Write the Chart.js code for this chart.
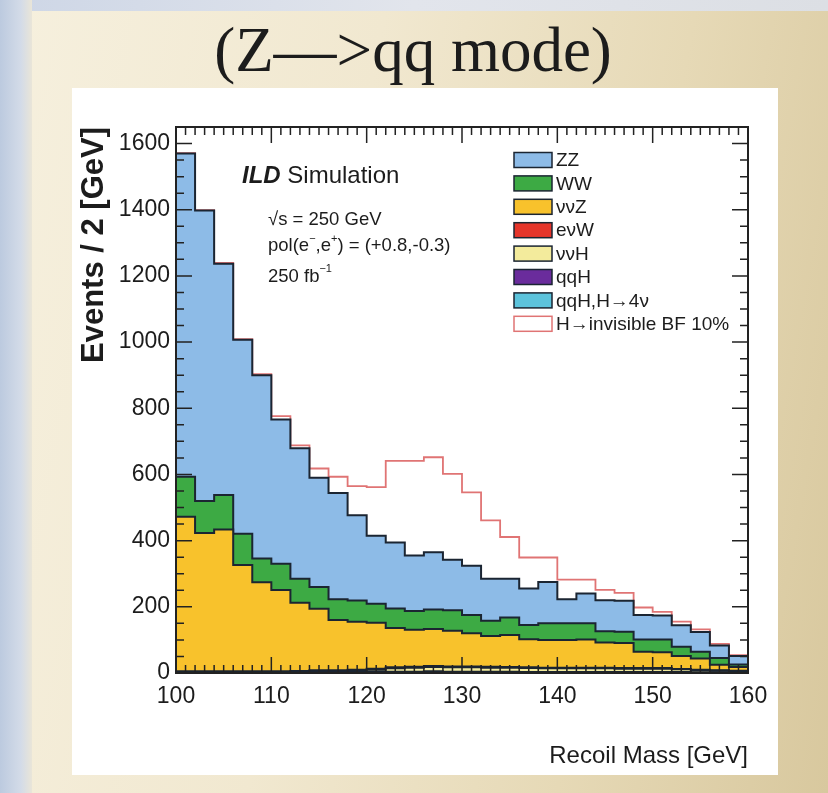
<!DOCTYPE html>
<html>
<head>
<meta charset="utf-8">
<script src="https://cdn.jsdelivr.net/npm/chart.js@4.4.1/dist/chart.umd.min.js"></script>
<style>
  html, body { margin: 0; padding: 0; }
  body {
    width: 828px; height: 793px; overflow: hidden; position: relative;
    background: linear-gradient(100deg, #f6f0de 0%, #f1e8d0 40%, #e6d9b6 72%, #d8c89e 100%);
  }
  #topband { position: absolute; left: 0; top: 0; width: 828px; height: 11px;
    background: linear-gradient(90deg, #cdd6e6, #e2e5ec 50%, #dcdfe4); }
  #leftband { position: absolute; left: 0; top: 0; width: 32px; height: 793px;
    background: linear-gradient(90deg, #bccadf, #d3dbe8 65%, #e9e5d8); }
  canvas { position: absolute; left: 0; top: 0; }
</style>
</head>
<body>
<div id="topband"></div>
<div id="leftband"></div>
<canvas id="recoil" width="828" height="793"></canvas>
<script>
// recoil mass bins, 2 GeV wide (low edges)
const binLow = [100, 102, 104, 106, 108, 110, 112, 114, 116, 118,
                120, 122, 124, 126, 128, 130, 132, 134, 136, 138,
                140, 142, 144, 146, 148, 150, 152, 154, 156, 158];
const binWidth = 2;

// events per bin for each background
const zz     = [977, 878, 699, 586, 554, 436, 394, 330, 321, 258,
                206, 199, 168, 173, 152, 149, 127, 117, 110, 125,
                 73,  90,  94,  93,  74,  73,  65,  60,  38,  25];
const ww     = [121,  97, 104,  95,  72,  79,  73,  66,  63,  64,
                 57,  59,  56,  59,  62,  55,  46,  53,  43,  50,
                 50,  49,  34,  34,  37,  38,  28,  20,  20,   8];
const nnz    = [467, 418, 429, 321, 269, 246, 206, 186, 152, 145,
                139, 119, 112, 112, 108, 100,  93,  97,  85,  84,
                 84,  85,  76,  76,  49,  48,  39,  34,  17,  11];
const enw    = [4, 4, 4, 4, 3, 3, 3, 4, 4, 4, 3, 3, 3, 3, 3,
                3, 3, 2, 2, 2, 2, 2, 2, 2, 2, 2, 1, 1, 1, 1];
const nnh    = [0, 0, 0, 0, 1, 1, 1, 2, 2, 3, 6, 10, 12, 13, 13,
                13, 12, 12, 12, 11, 11, 11, 11, 10, 10, 10, 8, 7, 5, 4];
const qqh    = [1, 1, 1, 1, 1, 1, 2, 2, 2, 2, 3, 3, 3, 4, 3,
                3, 3, 3, 2, 2, 2, 2, 2, 2, 2, 2, 2, 1, 1, 1];
const qqhInv = [0, 0, 0, 0, 0, 0, 0, 0, 0, 1, 1, 1, 1, 1, 1,
                1, 1, 1, 1, 1, 1, 1, 1, 1, 1, 1, 1, 1, 1, 1];
// H -> invisible signal (BF 10%), drawn on top of the stack
const hInvisible = [1, 1, 2, 2, 3, 10, 9, 28, 49, 88,
                    147, 247, 286, 287, 260, 222, 176, 126, 94, 74,
                    59, 42, 31, 24, 23, 11, 11, 8, 5, 3];

const xTicks = [100, 110, 120, 130, 140, 150, 160];
const yTicks = [0, 200, 400, 600, 800, 1000, 1200, 1400, 1600];

const SANS = '"Liberation Sans", Arial, sans-serif';
const INK = '#1c1c1c';
const OUTLINE = '#1b2532';

// bottom of the stack first
const stack = [
  { label: 'qqH,H\u21924\u03bd', values: qqhInv, color: '#5cc3dc' },
  { label: 'qqH', values: qqh, color: '#6a2c9c' },
  { label: '\u03bd\u03bdH', values: nnh, color: '#f3eb9c' },
  { label: 'e\u03bdW', values: enw, color: '#e5352b' },
  { label: '\u03bd\u03bdZ', values: nnz, color: '#f8c22c' },
  { label: 'WW', values: ww, color: '#3daa44' },
  { label: 'ZZ', values: zz, color: '#8dbbe7' }
];

function stepPoints(vals) {
  const pts = binLow.map((x, i) => ({ x: x, y: vals[i] }));
  pts.push({ x: binLow[binLow.length - 1] + binWidth, y: vals[vals.length - 1] });
  return pts;
}

let running = binLow.map(() => 0);
const datasets = stack.map((s, k) => {
  running = running.map((v, i) => v + s.values[i]);
  return {
    label: s.label,
    data: stepPoints(running),
    backgroundColor: s.color,
    borderColor: OUTLINE,
    borderWidth: 2,
    fill: k === 0 ? 'origin' : '-1',
    stepped: true,
    pointRadius: 0,
    tension: 0
  };
});
datasets.push({
  label: 'H\u2192invisible BF 10%',
  data: stepPoints(running.map((v, i) => v + hInvisible[i])),
  borderColor: '#e07474',
  backgroundColor: '#ffffff',
  borderWidth: 1.8,
  fill: false,
  stepped: true,
  pointRadius: 0
});

function drawParts(ctx, x, y, parts) {
  parts.forEach(p => {
    ctx.font = p.font;
    ctx.fillText(p.t, x, y + (p.dy || 0));
    x += ctx.measureText(p.t).width;
  });
}

const decor = {
  id: 'decor',
  beforeDraw(chart) {
    const ctx = chart.ctx;
    ctx.save();
    ctx.fillStyle = '#ffffff';
    ctx.fillRect(72, 88, 706, 687);
    ctx.fillStyle = INK;
    ctx.font = '63px "Liberation Serif", serif';
    ctx.textAlign = 'center';
    ctx.textBaseline = 'alphabetic';
    ctx.fillText('(Z\u2014>qq mode)', 413, 71);
    ctx.restore();
  },
  afterDraw(chart) {
    const { ctx, chartArea: a, scales: { x, y } } = chart;
    ctx.save();
    ctx.strokeStyle = '#222';
    ctx.lineWidth = 1.5;
    ctx.beginPath();
    for (let v = 100; v <= 160; v += 1) {
      const px = x.getPixelForValue(v);
      const len = v % 10 === 0 ? 16 : 8;
      ctx.moveTo(px, a.bottom); ctx.lineTo(px, a.bottom - len);
      ctx.moveTo(px, a.top); ctx.lineTo(px, a.top + len);
    }
    for (let v = 0; v <= 1650; v += 50) {
      const py = y.getPixelForValue(v);
      const len = v % 200 === 0 ? 16 : 8;
      ctx.moveTo(a.left, py); ctx.lineTo(a.left + len, py);
      ctx.moveTo(a.right, py); ctx.lineTo(a.right - len, py);
    }
    ctx.stroke();
    ctx.lineWidth = 2;
    ctx.strokeRect(a.left, a.top, a.right - a.left, a.bottom - a.top);

    // labels inside the frame
    ctx.fillStyle = INK;
    ctx.textAlign = 'left';
    ctx.textBaseline = 'middle';
    drawParts(ctx, 242, 176, [
      { t: 'ILD', font: 'italic bold 24px ' + SANS },
      { t: ' Simulation', font: '24px ' + SANS }
    ]);
    const f = '18.5px ' + SANS, fs = '11px ' + SANS;
    drawParts(ctx, 268, 220, [{ t: '\u221as = 250 GeV', font: f }]);
    drawParts(ctx, 268, 246, [
      { t: 'pol(e', font: f }, { t: '\u2212', font: fs, dy: -7 },
      { t: ',e', font: f }, { t: '+', font: fs, dy: -7 },
      { t: ') = (+0.8,-0.3)', font: f }
    ]);
    drawParts(ctx, 268, 277, [
      { t: '250 fb', font: f }, { t: '\u22121', font: fs, dy: -8 }
    ]);

    // legend, top of the stack first
    const rows = chart.data.datasets.slice(0, stack.length).reverse()
      .concat(chart.data.datasets.slice(stack.length));
    rows.forEach((ds, i) => {
      const cy = 160 + i * 23.4;
      const signal = ds.fill === false;
      ctx.fillStyle = signal ? '#ffffff' : ds.backgroundColor;
      ctx.fillRect(514, cy - 7.5, 38, 15);
      ctx.strokeStyle = signal ? '#e07474' : OUTLINE;
      ctx.lineWidth = 1.5;
      ctx.strokeRect(514, cy - 7.5, 38, 15);
      ctx.fillStyle = INK;
      ctx.font = '19px ' + SANS;
      ctx.fillText(ds.label, 556, cy + 1);
    });
    ctx.restore();
  }
};

new Chart(document.getElementById('recoil'), {
  type: 'line',
  data: { datasets: datasets },
  options: {
    responsive: false,
    animation: false,
    devicePixelRatio: 1,
    layout: { padding: { left: 72, top: 127, right: 80, bottom: 0 } },
    plugins: { legend: { display: false }, tooltip: { enabled: false } },
    scales: {
      x: {
        type: 'linear', min: 100, max: 160,
        afterFit: s => { s.height = 120; },
        afterBuildTicks: s => { s.ticks = xTicks.map(v => ({ value: v })); },
        grid: { display: false, drawTicks: false },
        border: { display: false },
        ticks: { font: { family: SANS, size: 23 }, color: INK, padding: 10, maxRotation: 0, autoSkip: false,
                 callback: v => String(v) },
        title: { display: true, text: 'Recoil Mass [GeV]', align: 'end', color: INK,
                 font: { family: SANS, size: 24 }, padding: { top: 0, bottom: 22 } }
      },
      y: {
        type: 'linear', min: 0, max: 1650,
        afterFit: s => { s.width = 104; },
        afterBuildTicks: s => { s.ticks = yTicks.map(v => ({ value: v })); },
        grid: { display: false, drawTicks: false },
        border: { display: false },
        ticks: { font: { family: SANS, size: 23 }, color: INK, padding: 6, autoSkip: false,
                 callback: v => String(v) },
        title: { display: true, text: 'Events / 2 [GeV]', align: 'end', color: INK,
                 font: { family: SANS, size: 31, weight: 'bold' }, padding: { top: 4, bottom: 0 } }
      }
    }
  },
  plugins: [decor]
});
</script>
</body>
</html>
